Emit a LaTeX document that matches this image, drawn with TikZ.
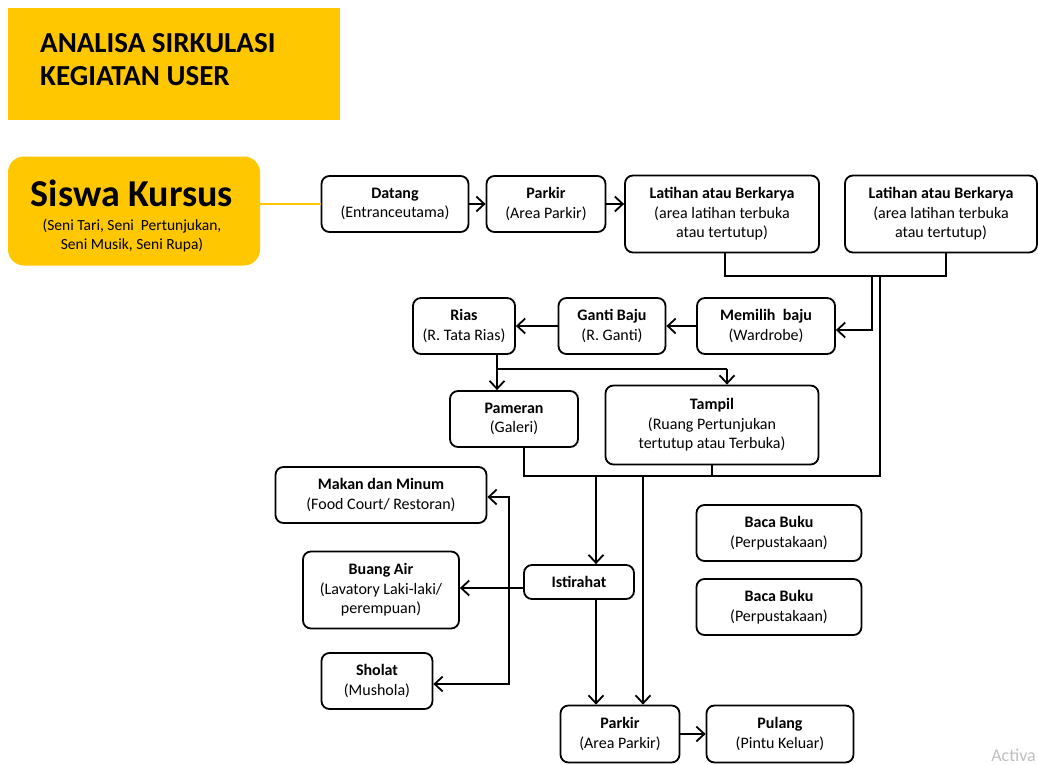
\documentclass[tikz,border=0pt]{standalone}
\usepackage{fontspec}
\setmainfont{Carlito}
\usepackage{xcolor}
\usetikzlibrary{positioning,calc,arrows.meta}

\definecolor{kuning}{RGB}{255,199,0}

\tikzset{
    box/.style={draw, line width=1.8pt, rounded corners=8pt, align=center, inner sep=2pt,
        font=\fontsize{16}{19.5}\selectfont},
    alur/.style={line width=1.8pt},
    >={Straight Barb[length=8pt,width=15pt,line width=1.8pt]}
}

\begin{document}
\begin{tikzpicture}[x=1pt, y=-1pt]
    \useasboundingbox (0,0) rectangle (1038,765);

    % judul
    \node [fill=kuning, minimum width=332pt, minimum height=112pt, inner sep=0pt] (judul) at (174,64) {};
    \node [anchor=north west, align=left, inner sep=0pt, font=\fontsize{29}{33}\selectfont\bfseries] (judultxt) at (40,33)
        {ANALISA SIRKULASI\\KEGIATAN USER};

    % user
    \node [fill=kuning, rounded corners=16pt, minimum width=252pt, minimum height=109pt, inner sep=0pt] (siswa) at (134,211) {};
    \node [font=\fontsize{38}{40}\selectfont\bfseries] (siswatxt) at (132,193) {Siswa Kursus};
    \node [align=center, font=\fontsize{15.5}{19}\selectfont] (siswasub) at (132,236)
        {(Seni Tari, Seni\ \ Pertunjukan,\\Seni Musik, Seni Rupa)};

    % baris atas
    \node [box, minimum width=147pt, minimum height=56pt] (datang) at (395,204) {\textbf{Datang}\\(Entranceutama)};
    \node [box, minimum width=119pt, minimum height=56pt] (parkirA) at (546,204) {\textbf{Parkir}\\(Area Parkir)};
    \node [box, minimum width=194pt, minimum height=77pt] (latihanA) at (722,214)
        {\textbf{Latihan atau Berkarya}\\(area latihan terbuka\\atau tertutup)};
    \node [box, minimum width=192pt, minimum height=77pt] (latihanB) at (941,214)
        {\textbf{Latihan atau Berkarya}\\(area latihan terbuka\\atau tertutup)};

    % baris kedua
    \node [box, minimum width=138pt, minimum height=56pt] (memilih) at (766,326) {\textbf{Memilih\ \ baju}\\(Wardrobe)};
    \node [box, minimum width=107pt, minimum height=56pt] (ganti) at (612,326) {\textbf{Ganti Baju}\\(R. Ganti)};
    \node [box, minimum width=102pt, minimum height=56pt] (rias) at (464,326) {\textbf{Rias}\\(R. Tata Rias)};

    % baris ketiga
    \node [box, minimum width=128pt, minimum height=56pt] (pameran) at (514,419) {\textbf{Pameran}\\(Galeri)};
    \node [box, minimum width=213pt, minimum height=79pt] (tampil) at (712,425)
        {\textbf{Tampil}\\(Ruang Pertunjukan\\tertutup atau Terbuka)};

    % fasilitas
    \node [box, minimum width=211pt, minimum height=56pt] (makan) at (381,495) {\textbf{Makan dan Minum}\\(Food Court/ Restoran)};
    \node [box, minimum width=156pt, minimum height=77pt] (buang) at (381,590)
        {\textbf{Buang Air}\\(Lavatory Laki-laki/\\perempuan)};
    \node [box, minimum width=111pt, minimum height=56pt] (sholat) at (377,681) {\textbf{Sholat}\\(Mushola)};
    \node [box, minimum width=110pt, minimum height=34pt] (istirahat) at (579,582) {\textbf{Istirahat}};
    \node [box, minimum width=165pt, minimum height=56pt] (bacaA) at (779,533) {\textbf{Baca Buku}\\(Perpustakaan)};
    \node [box, minimum width=165pt, minimum height=56pt] (bacaB) at (779,607) {\textbf{Baca Buku}\\(Perpustakaan)};

    % keluar
    \node [box, minimum width=119pt, minimum height=57pt] (parkirB) at (620,734) {\textbf{Parkir}\\(Area Parkir)};
    \node [box, minimum width=147pt, minimum height=57pt] (pulang) at (780,734) {\textbf{Pulang}\\(Pintu Keluar)};

    \node [anchor=south east, text=black!25, inner sep=0pt, font=\fontsize{18}{20}\selectfont] (activa) at (1036,762) {Activa};

    % titik bantu
    \coordinate (gabung) at (725,276);
    \coordinate (cabangA) at (872,276);
    \coordinate (cabangB) at (880,276);
    \coordinate (bus) at (880,476);
    \coordinate (forkL) at (497,369);
    \coordinate (forkR) at (727,369);
    \coordinate (turunA) at (596,476);
    \coordinate (turunB) at (643,476);
    \coordinate (spine) at (509,588);

    % garis
    \draw [kuning, line width=2pt] (siswa.east |- datang.west) -- (datang.west);
    \draw [alur, ->] (datang.east) -- (parkirA.west);
    \draw [alur, ->] (parkirA.east) -- (latihanA.west |- parkirA.east);
    \draw [alur] ([xshift=3pt]latihanA.south) |- (gabung) -- ([xshift=5pt]latihanB.south |- gabung) -- ([xshift=5pt]latihanB.south);
    \draw [alur, ->] (cabangA) |- ([yshift=-4pt]memilih.east);
    \draw [alur, ->] (memilih.west) -- (ganti.east);
    \draw [alur, ->] (ganti.west) -- (rias.east);
    \draw [alur] (rias.south -| forkL) -- (forkL) -- (forkR);
    \draw [alur, ->] (forkL) -- (forkL |- pameran.north);
    \draw [alur, ->] (forkR) -- (forkR |- tampil.north);
    \draw [alur] (cabangB) -- (bus) -- ([xshift=10pt]pameran.south |- bus) -- ([xshift=10pt]pameran.south);
    \draw [alur] (tampil.south) -- (tampil.south |- bus);
    \draw [alur, ->] (turunA) -- (turunA |- istirahat.north);
    \draw [alur, ->] (turunB) -- (turunB |- parkirB.north);
    \draw [alur, ->] (istirahat.south -| turunA) -- (turunA |- parkirB.north);
    \draw [alur, ->] (istirahat.west |- spine) -- (buang.east |- spine);
    \draw [alur, <->] ([yshift=-2pt]makan.east) -| (spine) |- ([yshift=-3pt]sholat.east);
    \draw [alur, ->] (parkirB.east) -- (pulang.west);
\end{tikzpicture}
\end{document}
